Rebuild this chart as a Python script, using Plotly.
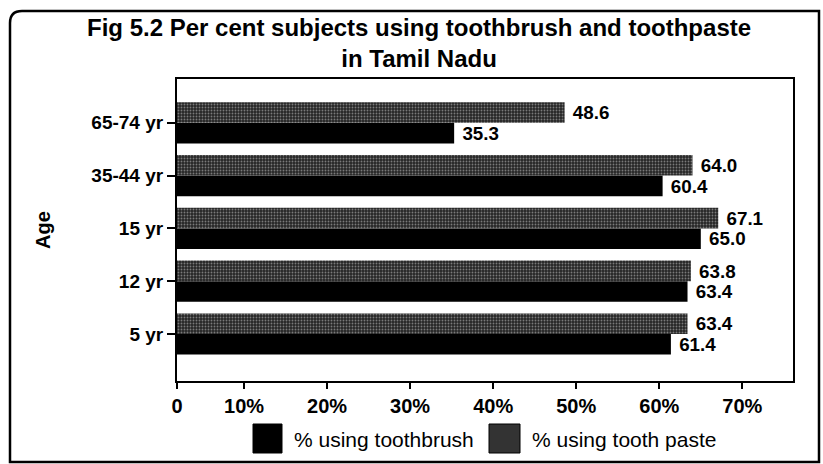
import plotly.graph_objects as go

ages = ["5 yr", "12 yr", "15 yr", "35-44 yr", "65-74 yr"]
toothbrush = [61.4, 63.4, 65.0, 60.4, 35.3]
toothpaste = [63.4, 63.8, 67.1, 64.0, 48.6]
tick_vals = [1.93, 10, 20, 30, 40, 50, 60, 70]
tick_text = ["0", "10%", "20%", "30%", "40%", "50%", "60%", "70%"]
series_names = ["% using toothbrush", "% using tooth paste"]

FONT = "Liberation Sans, Arial, sans-serif"
W, H = 823, 464
L, R, T, B = 177, 30, 79, 83
pw, ph = W - L - R, H - T - B

def px(x):
    return (x - L) / pw

def py(y):
    return (H - B - y) / ph

PASTE_PATTERN = dict(shape=".", fgcolor="#7a7a7a", bgcolor="#262626",
                     size=3, solidity=0.3, fillmode="replace")

fig = go.Figure()
fig.add_trace(go.Bar(
    y=ages, x=toothbrush, orientation="h", name=series_names[0],
    marker=dict(color="#000000", line=dict(width=0)),
    texttemplate="\u00a0%{x:.1f}", textposition="outside", cliponaxis=False,
    textfont=dict(family=FONT, size=21, color="#000", weight="bold"),
    showlegend=False, hoverinfo="skip",
))
fig.add_trace(go.Bar(
    y=ages, x=toothpaste, orientation="h", name=series_names[1],
    marker=dict(color="#333333", line=dict(width=0), pattern=PASTE_PATTERN),
    texttemplate="\u00a0%{x:.1f}", textposition="outside", cliponaxis=False,
    textfont=dict(family=FONT, size=21, color="#000", weight="bold"),
    showlegend=False, hoverinfo="skip",
))

# outer rounded frame
x0, x1 = px(10), px(819)
y0, y1 = py(462), py(11)
rx, ry = 12 / pw, 12 / ph
path = (f"M {x0+rx} {y1} L {x1} {y1} L {x1} {y0} L {x0} {y0} L {x0} {y1-ry} "
        f"Q {x0} {y1} {x0+rx} {y1} Z")
fig.add_shape(type="path", path=path, xref="paper", yref="paper",
              line=dict(color="#000", width=2.5), layer="below")

# title
fig.add_annotation(
    text="Fig 5.2 Per cent subjects using toothbrush and toothpaste<br>in Tamil Nadu",
    xref="paper", yref="paper", x=px(419), y=py(43), xanchor="center", yanchor="middle",
    showarrow=False, align="center",
    font=dict(family=FONT, size=24, color="#000", weight="bold"),
)

# legend (swatches + text)
sw = [(253, 282, "#000000"), (489, 520, "#333333")]
for (a, b, c), name in zip(sw, series_names):
    fig.add_shape(type="rect", xref="paper", yref="paper",
                  x0=px(a), x1=px(b), y0=py(453), y1=py(424),
                  fillcolor=c, line=dict(color="#000", width=1))
    fig.add_annotation(text=name, xref="paper", yref="paper",
                       x=px(b + 10), y=py(439), xanchor="left", yanchor="middle",
                       showarrow=False,
                       font=dict(family=FONT, size=21, color="#000"))

fig.update_layout(
    width=W, height=H,
    margin=dict(l=L, r=R, t=T, b=B),
    paper_bgcolor="#ffffff", plot_bgcolor="#ffffff",
    barmode="group", bargap=0.22, bargroupgap=0,
    xaxis=dict(
        range=[1.93, 76.1], tickvals=tick_vals, ticktext=tick_text,
        showgrid=False, zeroline=False,
        showline=True, linecolor="#000", linewidth=2, mirror=True,
        ticks="outside", ticklen=6, tickwidth=2, tickcolor="#000",
        tickfont=dict(family=FONT, size=20, color="#000", weight="bold"),
    ),
    yaxis=dict(
        type="category", categoryorder="array", categoryarray=ages,
        range=[-0.89, 4.83],
        showgrid=False, zeroline=False,
        showline=True, linecolor="#000", linewidth=2, mirror=True,
        ticks="outside", ticklen=8, tickwidth=2, tickcolor="#000",
        tickfont=dict(family=FONT, size=19, color="#000", weight="bold"),
        title=dict(text="Age", standoff=35,
                   font=dict(family=FONT, size=20, color="#000", weight="bold")),
    ),
    showlegend=False,
)

fig.write_html("out.html", config={"displayModeBar": False},
               post_script="document.body.style.margin='0';document.body.style.overflow='hidden';")
